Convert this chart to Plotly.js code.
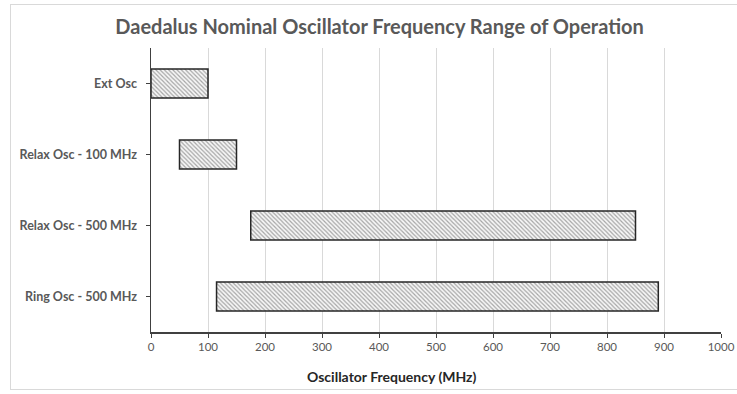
<!DOCTYPE html>
<html><head><meta charset="utf-8">
<script src="https://cdn.plot.ly/plotly-3.0.1.min.js"></script>
<style>
html,body{margin:0;padding:0;background:#fff;}
#frame{position:absolute;left:10px;top:4px;width:740px;height:384px;border-left:1px solid #d9d9d9;border-top:1px solid #d9d9d9;border-bottom:1px solid #d9d9d9;}
#chart{position:absolute;left:0;top:0;width:737px;height:394px;}
</style></head>
<body>
<div id="frame"></div>
<div id="chart"></div>
<script>
const categories = ["Ext Osc", "Relax Osc - 100 MHz", "Relax Osc - 500 MHz", "Ring Osc - 500 MHz"];
const rangeStart = [0, 50, 175, 115];
const rangeEnd = [100, 150, 850, 890];
const xTicks = [0, 100, 200, 300, 400, 500, 600, 700, 800, 900, 1000];

const widths = rangeEnd.map((e, i) => e - rangeStart[i]);
const font = "Lato, 'Open Sans', sans-serif";
const grey = "#595959";

Plotly.newPlot("chart", [{
  type: "bar",
  orientation: "h",
  y: categories,
  x: widths,
  base: rangeStart,
  width: 0.41,
  marker: {
    color: "#ffffff",
    line: {color: "#262626", width: 1.5},
    pattern: {shape: "\\", fgcolor: "#a6a6a6", bgcolor: "#f7f7f7", size: 3, solidity: 0.4}
  },
  hoverinfo: "none"
}], {
  width: 737, height: 394,
  margin: {l: 151, r: 16, t: 48, b: 62},
  paper_bgcolor: "rgba(0,0,0,0)",
  plot_bgcolor: "rgba(0,0,0,0)",
  showlegend: false,
  title: {text: "Daedalus Nominal Oscillator Frequency Range of Operation",
    font: {family: font, size: 20, color: grey, weight: "bold"},
    x: 0.515, xanchor: "center", y: 0.931, yanchor: "middle"},
  xaxis: {
    range: [0, 1000], tickvals: xTicks, ticktext: xTicks.map(String),
    showgrid: true, gridcolor: "#d9d9d9", gridwidth: 1,
    showline: true, linecolor: "#404040", linewidth: 1.5,
    ticks: "outside", ticklen: 4, tickcolor: "#404040",
    zeroline: false,
    tickfont: {family: font, size: 11.5, color: grey}
  },
  yaxis: {
    type: "category", categoryorder: "array", categoryarray: categories,
    autorange: "reversed",
    showgrid: false, zeroline: false,
    showline: true, linecolor: "#404040", linewidth: 1.5,
    ticks: "outside", ticklen: 4, tickcolor: "#404040",
    tickfont: {family: font, size: 12.5, color: grey, weight: "bold"},
    ticklabelstandoff: 6
  },
  annotations: [{
    text: "Oscillator Frequency (MHz)", xref: "paper", yref: "paper",
    x: 0.423, y: -0.155, xanchor: "center", yanchor: "middle", showarrow: false,
    font: {family: font, size: 14, color: "#262626", weight: "bold"}
  }]
}, {staticPlot: true});
</script>
</body></html>
